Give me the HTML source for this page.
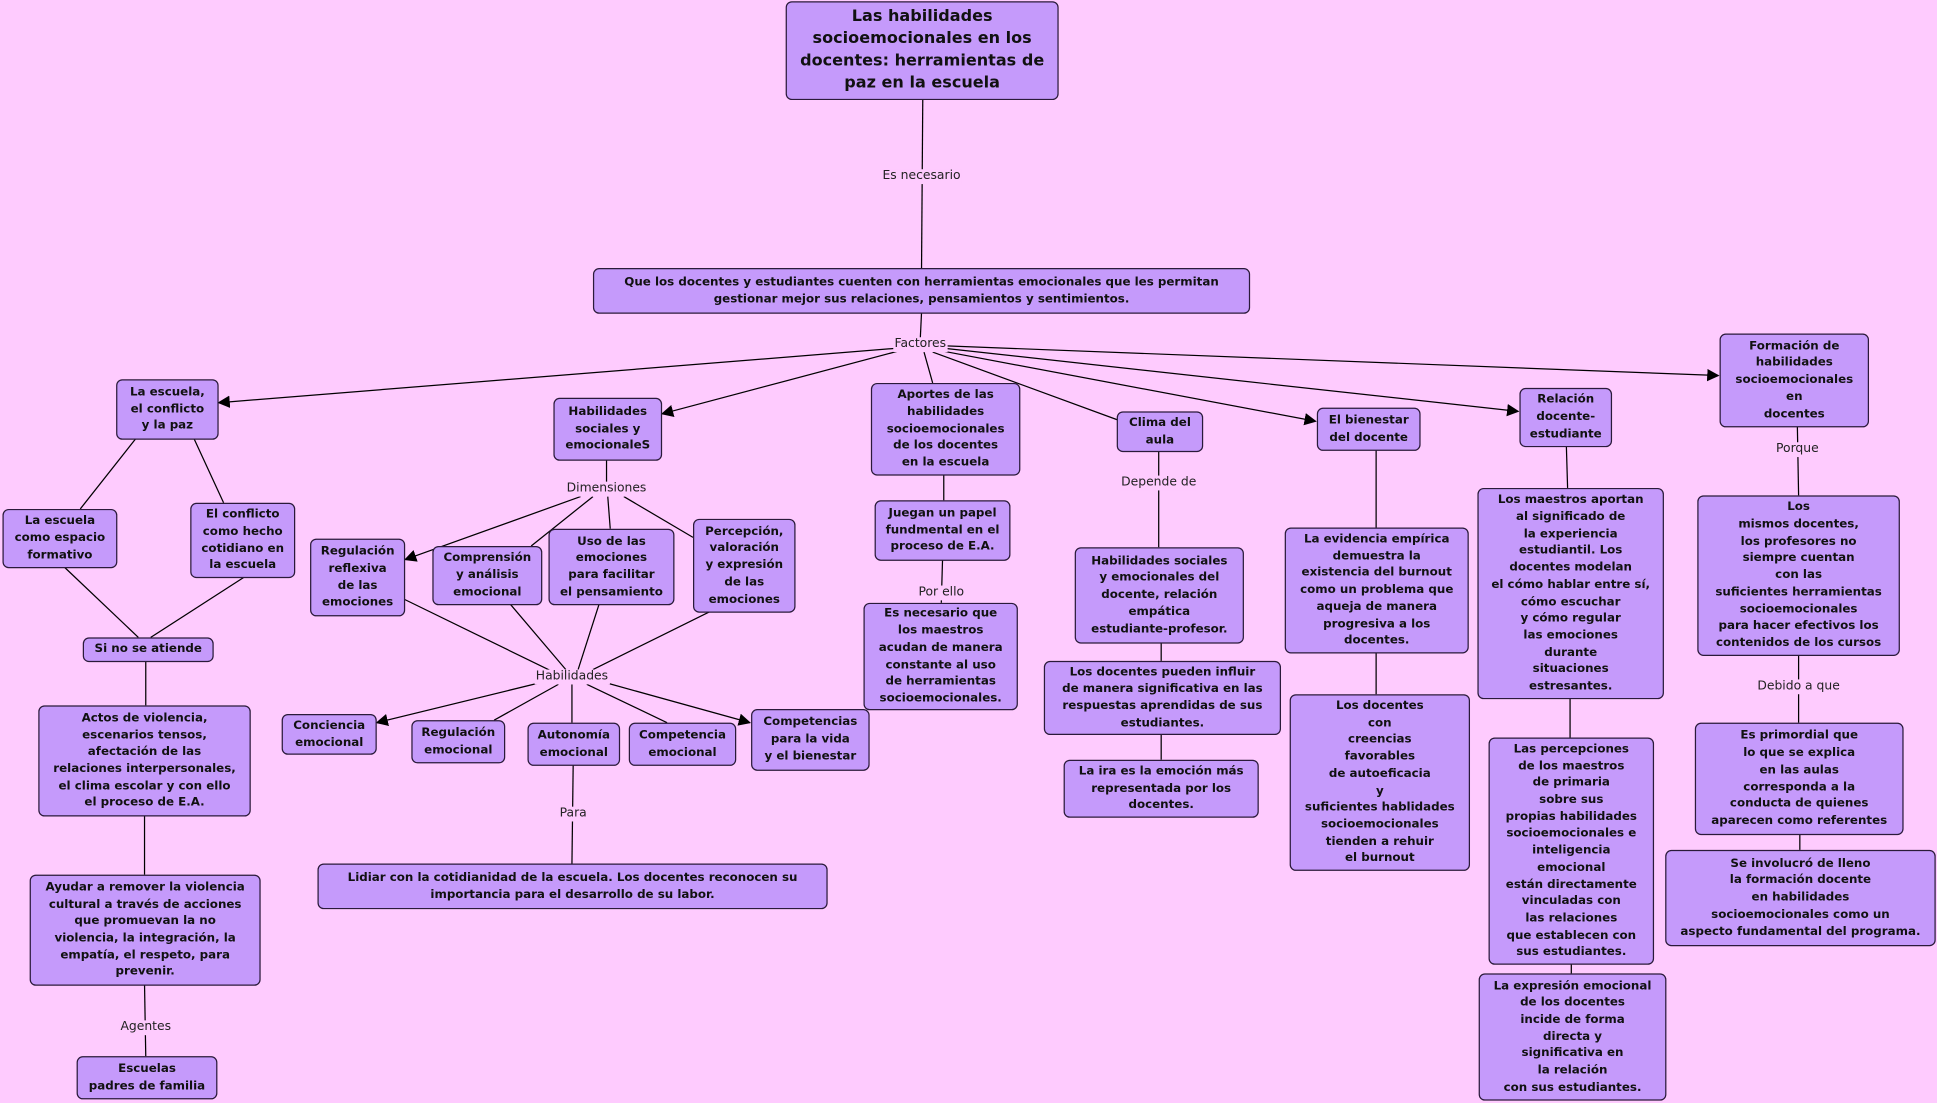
<!DOCTYPE html>
<html><head><meta charset="utf-8">
<style>
html,body{margin:0;padding:0;background:#fecbfe;}
body{width:1937px;height:1103px;overflow:hidden;position:relative;}
#c{position:absolute;left:0;top:0;width:1568px;height:893px;transform:scale(1.2353);transform-origin:0 0;}
.b{position:absolute;box-sizing:border-box;background:#c59afb;border:1px solid #2a1a3a;border-radius:5px;display:flex;align-items:center;justify-content:center;text-align:center;font-family:"DejaVu Sans","Liberation Sans",sans-serif;font-weight:bold;font-size:9.6px;line-height:13.7px;color:#111;white-space:nowrap;}
.l{position:absolute;font-family:"DejaVu Sans","Liberation Sans",sans-serif;font-size:10px;color:#222;background:#fecbfe;transform:translate(-50%,-50%);white-space:nowrap;line-height:12px;padding:0 1px;}
svg{position:absolute;left:0;top:0;}
</style></head><body>
<div id="c">
<svg width="1568" height="893" viewBox="0 0 1568 893">
<defs><marker id="a" markerWidth="10" markerHeight="10" refX="9" refY="5" orient="auto" markerUnits="userSpaceOnUse"><path d="M0,0 L10,5 L0,10 z" fill="#000"/></marker></defs>
<g stroke="#000" stroke-width="1" fill="none">
<line x1="747" y1="80" x2="746" y2="217"/>
<line x1="746" y1="253" x2="745" y2="274"/>
<line x1="725" y1="282" x2="177" y2="326" marker-end="url(#a)"/>
<line x1="728" y1="284" x2="536" y2="335" marker-end="url(#a)"/>
<line x1="748" y1="285" x2="755" y2="310"/>
<line x1="755" y1="285" x2="905" y2="340"/>
<line x1="762" y1="284" x2="1065" y2="341" marker-end="url(#a)"/>
<line x1="765" y1="282" x2="1229" y2="333" marker-end="url(#a)"/>
<line x1="766" y1="280" x2="1391" y2="304" marker-end="url(#a)"/>
<line x1="110" y1="355" x2="65" y2="412"/>
<line x1="157" y1="355" x2="181" y2="407"/>
<line x1="52" y1="459" x2="112" y2="516"/>
<line x1="198" y1="467" x2="122" y2="516"/>
<line x1="118" y1="535" x2="118" y2="571"/>
<line x1="117" y1="660" x2="117" y2="708"/>
<line x1="117" y1="797" x2="118" y2="855"/>
<line x1="491" y1="372" x2="491" y2="390"/>
<line x1="470" y1="402" x2="328" y2="453" marker-end="url(#a)"/>
<line x1="480" y1="402" x2="430" y2="442"/>
<line x1="492" y1="402" x2="494" y2="428"/>
<line x1="505" y1="402" x2="561" y2="435"/>
<line x1="327" y1="485" x2="450" y2="545"/>
<line x1="413" y1="489" x2="458" y2="542"/>
<line x1="485" y1="489" x2="468" y2="542"/>
<line x1="575" y1="495" x2="480" y2="542"/>
<line x1="440" y1="552" x2="305" y2="585" marker-end="url(#a)"/>
<line x1="452" y1="554" x2="400" y2="583"/>
<line x1="463" y1="554" x2="463" y2="585"/>
<line x1="475" y1="554" x2="540" y2="585"/>
<line x1="488" y1="552" x2="607" y2="585" marker-end="url(#a)"/>
<line x1="464" y1="619" x2="463" y2="699"/>
<line x1="764" y1="384" x2="764" y2="405"/>
<line x1="763" y1="453" x2="762" y2="488"/>
<line x1="938" y1="365" x2="938" y2="443"/>
<line x1="940" y1="520" x2="940" y2="535"/>
<line x1="940" y1="594" x2="940" y2="615"/>
<line x1="1114" y1="364" x2="1114" y2="427"/>
<line x1="1114" y1="528" x2="1114" y2="562"/>
<line x1="1268" y1="361" x2="1269" y2="395"/>
<line x1="1271" y1="565" x2="1271" y2="597"/>
<line x1="1272" y1="780" x2="1272" y2="788"/>
<line x1="1455" y1="345" x2="1456" y2="401"/>
<line x1="1456" y1="530" x2="1456" y2="585"/>
<line x1="1457" y1="675" x2="1457" y2="688"/>
</g>
</svg>

<div class="l" style="left:746px;top:143px">Es necesario</div>
<div class="l" style="left:745px;top:279px">Factores</div>
<div class="l" style="left:491px;top:396px">Dimensiones</div>
<div class="l" style="left:463px;top:548px">Habilidades</div>
<div class="l" style="left:464px;top:659px">Para</div>
<div class="l" style="left:118px;top:832px">Agentes</div>
<div class="l" style="left:762px;top:480px">Por ello</div>
<div class="l" style="left:938px;top:391px">Depende de</div>
<div class="l" style="left:1455px;top:364px">Porque</div>
<div class="l" style="left:1456px;top:556px">Debido a que</div>

<div class="b" style="left:636px;top:1px;width:221px;height:80px;font-size:13px;line-height:18px">Las habilidades<br>socioemocionales en los<br>docentes: herramientas de<br>paz en la escuela</div>
<div class="b" style="left:480px;top:217px;width:532px;height:37px">Que los docentes y estudiantes cuenten con herramientas emocionales que les permitan<br>gestionar mejor sus relaciones, pensamientos y sentimientos.</div>
<div class="b" style="left:94px;top:307px;width:83px;height:49px">La escuela,<br>el conflicto<br>y la paz</div>
<div class="b" style="left:448px;top:322px;width:88px;height:51px">Habilidades<br>sociales y<br>emocionaleS</div>
<div class="b" style="left:705px;top:310px;width:121px;height:75px">Aportes de las<br>habilidades<br>socioemocionales<br>de los docentes<br>en la escuela</div>
<div class="b" style="left:904px;top:333px;width:70px;height:33px">Clima del<br>aula</div>
<div class="b" style="left:1066px;top:330px;width:84px;height:35px">El bienestar<br>del docente</div>
<div class="b" style="left:1230px;top:314px;width:75px;height:48px">Relación<br>docente-<br>estudiante</div>
<div class="b" style="left:1392px;top:270px;width:121px;height:76px">Formación de<br>habilidades<br>socioemocionales<br>en<br>docentes</div>
<div class="b" style="left:2px;top:412px;width:93px;height:48px">La escuela<br>como espacio<br>formativo</div>
<div class="b" style="left:154px;top:407px;width:85px;height:61px">El conflicto<br>como hecho<br>cotidiano en<br>la escuela</div>
<div class="b" style="left:67px;top:516px;width:106px;height:20px">Si no se atiende</div>
<div class="b" style="left:31px;top:571px;width:172px;height:90px">Actos de violencia,<br>escenarios tensos,<br>afectación de las<br>relaciones interpersonales,<br>el clima escolar y con ello<br>el proceso de E.A.</div>
<div class="b" style="left:24px;top:708px;width:187px;height:90px">Ayudar a remover la violencia<br>cultural a través de acciones<br>que promuevan la no<br>violencia, la integración, la<br>empatía, el respeto, para<br>prevenir.</div>
<div class="b" style="left:62px;top:855px;width:114px;height:35px">Escuelas<br>padres de familia</div>
<div class="b" style="left:251px;top:436px;width:77px;height:63px">Regulación<br>reflexiva<br>de las<br>emociones</div>
<div class="b" style="left:350px;top:442px;width:89px;height:48px">Comprensión<br>y análisis<br>emocional</div>
<div class="b" style="left:444px;top:428px;width:102px;height:62px">Uso de las<br>emociones<br>para facilitar<br>el pensamiento</div>
<div class="b" style="left:561px;top:420px;width:83px;height:76px">Percepción,<br>valoración<br>y expresión<br>de las<br>emociones</div>
<div class="b" style="left:228px;top:578px;width:77px;height:33px">Conciencia<br>emocional</div>
<div class="b" style="left:333px;top:583px;width:76px;height:35px">Regulación<br>emocional</div>
<div class="b" style="left:427px;top:585px;width:75px;height:35px">Autonomía<br>emocional</div>
<div class="b" style="left:509px;top:585px;width:87px;height:35px">Competencia<br>emocional</div>
<div class="b" style="left:608px;top:574px;width:96px;height:50px">Competencias<br>para la vida<br>y el bienestar</div>
<div class="b" style="left:257px;top:699px;width:413px;height:37px">Lidiar con la cotidianidad de la escuela. Los docentes reconocen su<br>importancia para el desarrollo de su labor.</div>
<div class="b" style="left:708px;top:405px;width:110px;height:49px">Juegan un papel<br>fundmental en el<br>proceso de E.A.</div>
<div class="b" style="left:699px;top:488px;width:125px;height:87px">Es necesario que<br>los maestros<br>acudan de manera<br>constante al uso<br>de herramientas<br>socioemocionales.</div>
<div class="b" style="left:870px;top:443px;width:137px;height:78px">Habilidades sociales<br>y emocionales del<br>docente, relación<br>empática<br>estudiante-profesor.</div>
<div class="b" style="left:845px;top:535px;width:192px;height:60px">Los docentes pueden influir<br>de manera significativa en las<br>respuestas aprendidas de sus<br>estudiantes.</div>
<div class="b" style="left:861px;top:615px;width:158px;height:47px">La ira es la emoción más<br>representada por los<br>docentes.</div>
<div class="b" style="left:1040px;top:427px;width:149px;height:102px">La evidencia empírica<br>demuestra la<br>existencia del burnout<br>como un problema que<br>aqueja de manera<br>progresiva a los<br>docentes.</div>
<div class="b" style="left:1044px;top:562px;width:146px;height:143px">Los docentes<br>con<br>creencias<br>favorables<br>de autoeficacia<br>y<br>suficientes hablidades<br>socioemocionales<br>tienden a rehuir<br>el burnout</div>
<div class="b" style="left:1196px;top:395px;width:151px;height:171px">Los maestros aportan<br>al significado de<br>la experiencia<br>estudiantil. Los<br>docentes modelan<br>el cómo hablar entre sí,<br>cómo escuchar<br>y cómo regular<br>las emociones<br>durante<br>situaciones<br>estresantes.</div>
<div class="b" style="left:1205px;top:597px;width:134px;height:184px">Las percepciones<br>de los maestros<br>de primaria<br>sobre sus<br>propias habilidades<br>socioemocionales e<br>inteligencia<br>emocional<br>están directamente<br>vinculadas con<br>las relaciones<br>que establecen con<br>sus estudiantes.</div>
<div class="b" style="left:1197px;top:788px;width:152px;height:103px">La expresión emocional<br>de los docentes<br>incide de forma<br>directa y<br>significativa en<br>la relación<br>con sus estudiantes.</div>
<div class="b" style="left:1374px;top:401px;width:164px;height:130px">Los<br>mismos docentes,<br>los profesores no<br>siempre cuentan<br>con las<br>suficientes herramientas<br>socioemocionales<br>para hacer efectivos los<br>contenidos de los cursos</div>
<div class="b" style="left:1372px;top:585px;width:169px;height:91px">Es primordial que<br>lo que se explica<br>en las aulas<br>corresponda a la<br>conducta de quienes<br>aparecen como referentes</div>
<div class="b" style="left:1348px;top:688px;width:219px;height:78px">Se involucró de lleno<br>la formación docente<br>en habilidades<br>socioemocionales como un<br>aspecto fundamental del programa.</div>
</div>
</body></html>
